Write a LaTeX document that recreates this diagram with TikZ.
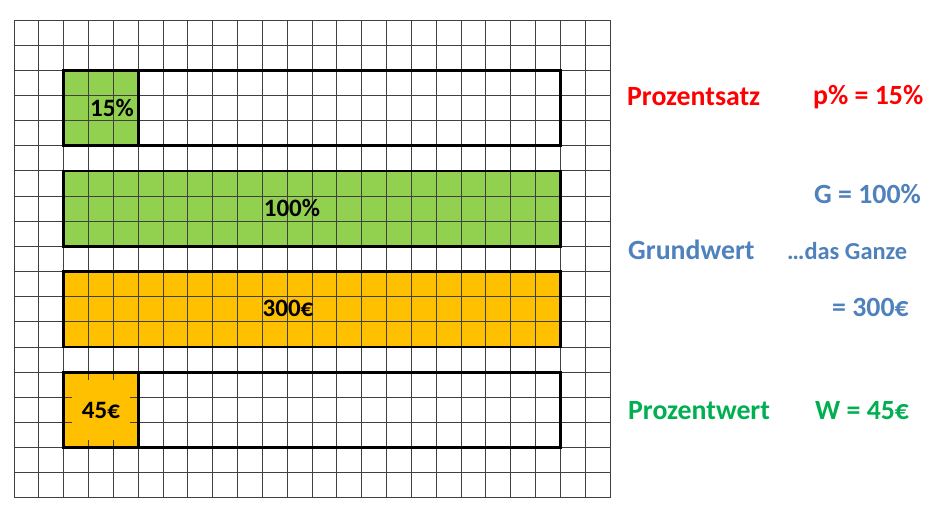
\documentclass[tikz,border=0pt]{standalone}
\usepackage{fontspec}
\setmainfont{Carlito}
\definecolor{pgreen}{HTML}{92D050}
\definecolor{porange}{HTML}{FFC000}
\definecolor{tred}{HTML}{FF0000}
\definecolor{tblue}{HTML}{4F81BD}
\definecolor{tgreen}{HTML}{00B050}
\begin{document}
\begin{tikzpicture}[x=1pt,y=-1pt,
  gridline/.style={draw=black!75,line width=0.9pt},
  barframe/.style={draw=black,line width=2.8pt},
  boxlabel/.style={font=\bfseries\fontsize{25}{28}\selectfont,inner sep=0pt},
  bigtext/.style={font=\bfseries\fontsize{27.8}{30}\selectfont,inner sep=0pt,anchor=west},
  smalltext/.style={font=\bfseries\fontsize{24.4}{27}\selectfont,inner sep=0pt,anchor=west}]
\useasboundingbox (0,0) rectangle (935,509);
\fill[white] (0,0) rectangle (935,509);
\def\cw{24.833}
\def\ch{25.15}
\def\xo{14}
\def\yo{20}
% fills
\fill[pgreen] (\xo+2*\cw,\yo+2*\ch) rectangle (\xo+5*\cw,\yo+5*\ch);
\fill[pgreen] (\xo+2*\cw,\yo+6*\ch) rectangle (\xo+22*\cw,\yo+9*\ch);
\fill[porange] (\xo+2*\cw,\yo+10*\ch) rectangle (\xo+22*\cw,\yo+13*\ch);
% grid
\foreach \i in {0,...,24} \draw[gridline] (\xo+\i*\cw,\yo) -- (\xo+\i*\cw,\yo+19*\ch);
\foreach \j in {0,...,19} \draw[gridline] (\xo,\yo+\j*\ch) -- (\xo+24*\cw,\yo+\j*\ch);
% 45 euro box (covers grid except short stubs)
\fill[porange] (\xo+2*\cw,\yo+14*\ch) rectangle (\xo+5*\cw,\yo+17*\ch);
\draw[gridline] (\xo+3*\cw,\yo+14*\ch) -- ++(0,8) (\xo+4*\cw,\yo+14*\ch) -- ++(0,8)
  (\xo+3*\cw,\yo+17*\ch) -- ++(0,-8) (\xo+4*\cw,\yo+17*\ch) -- ++(0,-8)
  (\xo+2*\cw,\yo+15*\ch) -- ++(8,0) (\xo+2*\cw,\yo+16*\ch) -- ++(8,0)
  (\xo+5*\cw,\yo+15*\ch) -- ++(-8,0) (\xo+5*\cw,\yo+16*\ch) -- ++(-8,0);
% bar frames
\draw[barframe] (\xo+2*\cw,\yo+2*\ch) rectangle (\xo+22*\cw,\yo+5*\ch);
\draw[barframe] (\xo+5*\cw,\yo+2*\ch) -- (\xo+5*\cw,\yo+5*\ch);
\draw[barframe] (\xo+2*\cw,\yo+6*\ch) rectangle (\xo+22*\cw,\yo+9*\ch);
\draw[barframe] (\xo+2*\cw,\yo+10*\ch) rectangle (\xo+22*\cw,\yo+13*\ch);
\draw[barframe] (\xo+2*\cw,\yo+14*\ch) rectangle (\xo+22*\cw,\yo+17*\ch);
\draw[barframe] (\xo+5*\cw,\yo+14*\ch) -- (\xo+5*\cw,\yo+17*\ch);
% box labels
\node[boxlabel] (l15) at (112,108) {15\%};
\node[boxlabel] (l100) at (292,208) {100\%};
\node[boxlabel] (l300) at (288,308) {300€};
\node[boxlabel] (l45) at (101,410) {45€};
% right texts
\node[bigtext,text=tred] (ps) at (627,97) {Prozentsatz};
\node[bigtext,text=tred] (pv) at (813,97) {p\% = 15\%};
\node[bigtext,text=tblue] (gv) at (814,194) {G = 100\%};
\node[bigtext,text=tblue] (gw) at (628,250) {Grundwert};
\node[smalltext,text=tblue] (dg) at (787,251) {…das Ganze};
\node[bigtext,text=tblue] (g3) at (832,307) {= 300€};
\node[bigtext,text=tgreen] (pw) at (628,411) {Prozentwert};
\node[bigtext,text=tgreen] (wv) at (815,411) {W = 45€};
\end{tikzpicture}
\end{document}
